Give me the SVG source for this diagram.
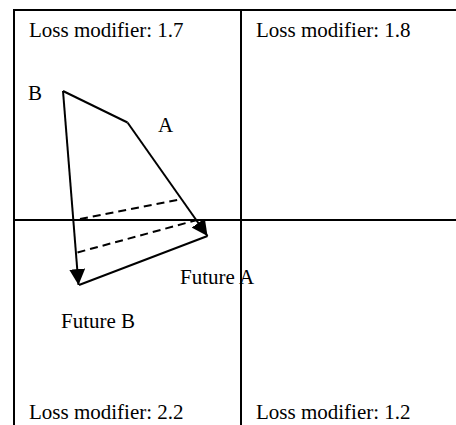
<svg xmlns="http://www.w3.org/2000/svg" width="456" height="425" viewBox="0 0 456 425">
<defs>
<style>
text{font-family:"Liberation Serif","Times New Roman",serif;font-size:21px;fill:#000}
.ln{stroke:#000;stroke-width:2;fill:none}
.ds{stroke:#000;stroke-width:2;fill:none;stroke-dasharray:8,5}
</style>
<marker id="ah" markerWidth="16" markerHeight="16" viewBox="0 0 16 16" refX="16" refY="8" orient="auto" markerUnits="userSpaceOnUse">
<path d="M0,0 L16,8 L0,16 Z" fill="#000"/>
</marker>
</defs>
<g id="grid">
<line class="ln" x1="14" y1="10" x2="456" y2="10"/>
<line class="ln" x1="14" y1="9" x2="14" y2="425"/>
<line class="ln" x1="241" y1="10" x2="241" y2="425"/>
<line class="ln" x1="14" y1="220" x2="456" y2="220"/>
</g>
<g id="labels">
<text x="29" y="37">Loss modifier: 1.7</text>
<text x="256" y="37">Loss modifier: 1.8</text>
<text x="29" y="419">Loss modifier: 2.2</text>
<text x="256" y="419">Loss modifier: 1.2</text>
</g>
<g id="nodeB"><text x="28" y="100">B</text></g>
<g id="nodeA"><text x="158" y="132">A</text></g>
<g id="nodeFutureA"><text x="180" y="284">Future A</text></g>
<g id="nodeFutureB"><text x="61" y="328">Future B</text></g>
<g id="connectors">
<line class="ln" x1="63" y1="91" x2="127.5" y2="122.5"/>
<line class="ln" x1="79" y1="285" x2="207.5" y2="236"/>
<line class="ln" x1="127.5" y1="122.5" x2="207.5" y2="236" marker-end="url(#ah)"/>
<line class="ln" x1="63" y1="91" x2="78.5" y2="285" marker-end="url(#ah)"/>
<line class="ds" x1="80" y1="219" x2="182" y2="199"/>
<line class="ds" x1="77.5" y1="252.5" x2="197" y2="220"/>
</g>
</svg>
